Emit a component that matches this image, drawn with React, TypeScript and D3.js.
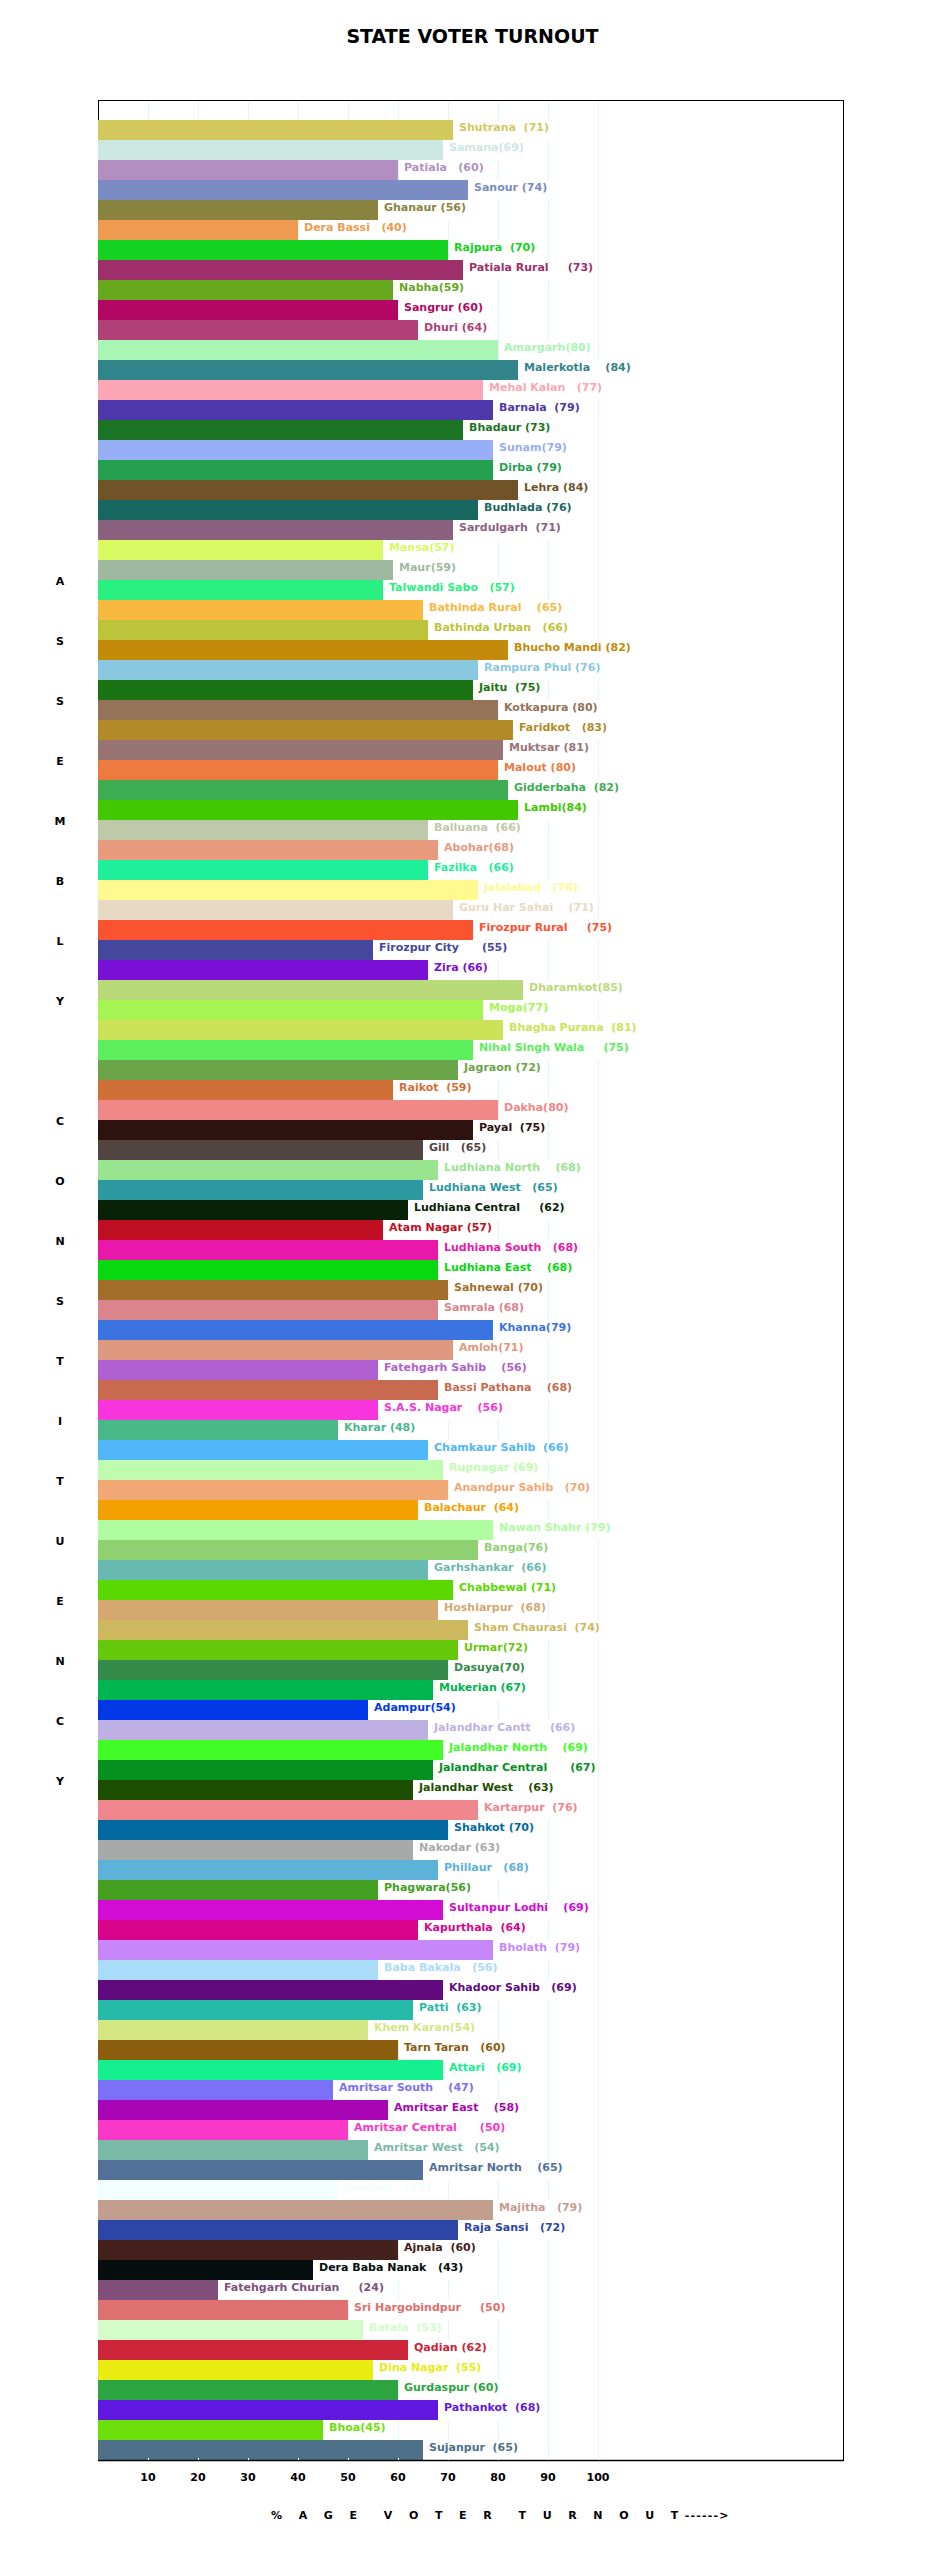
import React, { useEffect, useRef } from 'react';
import * as d3 from 'd3';

// constituency names as they appear in the labels (trailing spaces kept)
const constituencies = [
  'Shutrana  ', 'Samana', 'Patiala   ', 'Sanour ', 'Ghanaur ', 'Dera Bassi   ', 'Rajpura  ',
  'Patiala Rural     ', 'Nabha', 'Sangrur ', 'Dhuri ', 'Amargarh', 'Malerkotla    ',
  'Mehal Kalan   ', 'Barnala  ', 'Bhadaur ', 'Sunam', 'Dirba ', 'Lehra ', 'Budhlada ',
  'Sardulgarh  ', 'Mansa', 'Maur', 'Talwandi Sabo   ', 'Bathinda Rural    ', 'Bathinda Urban   ',
  'Bhucho Mandi ', 'Rampura Phul ', 'Jaitu  ', 'Kotkapura ', 'Faridkot   ', 'Muktsar ', 'Malout ',
  'Gidderbaha  ', 'Lambi', 'Balluana  ', 'Abohar', 'Fazilka   ', 'Jalalabad   ',
  'Guru Har Sahai    ', 'Firozpur Rural     ', 'Firozpur City      ', 'Zira ', 'Dharamkot',
  'Moga', 'Bhagha Purana  ', 'Nihal Singh Wala     ', 'Jagraon ', 'Raikot  ', 'Dakha', 'Payal  ',
  'Gill   ', 'Ludhiana North    ', 'Ludhiana West   ', 'Ludhiana Central     ', 'Atam Nagar ',
  'Ludhiana South   ', 'Ludhiana East    ', 'Sahnewal ', 'Samrala ', 'Khanna', 'Amloh',
  'Fatehgarh Sahib    ', 'Bassi Pathana    ', 'S.A.S. Nagar    ', 'Kharar ', 'Chamkaur Sahib  ',
  'Rupnagar ', 'Anandpur Sahib   ', 'Balachaur  ', 'Nawan Shahr ', 'Banga', 'Garhshankar  ',
  'Chabbewal ', 'Hoshiarpur  ', 'Sham Chaurasi  ', 'Urmar', 'Dasuya', 'Mukerian ', 'Adampur',
  'Jalandhar Cantt     ', 'Jalandhar North    ', 'Jalandhar Central      ', 'Jalandhar West    ',
  'Kartarpur  ', 'Shahkot ', 'Nakodar ', 'Phillaur   ', 'Phagwara', 'Sultanpur Lodhi    ',
  'Kapurthala  ', 'Bholath  ', 'Baba Bakala   ', 'Khadoor Sahib   ', 'Patti  ', 'Khem Karan',
  'Tarn Taran   ', 'Attari   ', 'Amritsar South    ', 'Amritsar East    ', 'Amritsar Central      ',
  'Amritsar West   ', 'Amritsar North    ', 'Jandiala   ', 'Majitha   ', 'Raja Sansi   ',
  'Ajnala  ', 'Dera Baba Nanak   ', 'Fatehgarh Churian     ', 'Sri Hargobindpur     ', 'Batala  ',
  'Qadian ', 'Dina Nagar  ', 'Gurdaspur ', 'Pathankot  ', 'Bhoa', 'Sujanpur  ',
];

const turnout = [
  71, 69, 60, 74, 56, 40, 70, 73, 59, 60, 64, 80, 84, 77, 79, 73, 79, 79, 84, 76,
  71, 57, 59, 57, 65, 66, 82, 76, 75, 80, 83, 81, 80, 82, 84, 66, 68, 66, 76, 71,
  75, 55, 66, 85, 77, 81, 75, 72, 59, 80, 75, 65, 68, 65, 62, 57, 68, 68, 70, 68,
  79, 71, 56, 68, 56, 48, 66, 69, 70, 64, 79, 76, 66, 71, 68, 74, 72, 70, 67, 54,
  66, 69, 67, 63, 76, 70, 63, 68, 56, 69, 64, 79, 56, 69, 63, 54, 60, 69, 47, 58,
  50, 54, 65, 48, 79, 72, 60, 43, 24, 50, 53, 62, 55, 60, 68, 45, 65,
];

const barColors = [
  '#d3c85c', '#cde7e3', '#b38fc1', '#7b8bc4', '#888440', '#ee9a50', '#14d220', '#9e2f6b',
  '#67a81e', '#b30764', '#b13f78', '#a9f5b4', '#31848a', '#fba5b5', '#4d37aa', '#1b7524',
  '#97aff7', '#24a050', '#715328', '#196761', '#8a627f', '#d9f962', '#9fb8a0', '#29f080',
  '#f9b941', '#bcc43a', '#c48a0a', '#8ac8e0', '#1b7414', '#947358', '#b38a28', '#987474',
  '#ed7a3e', '#3ead52', '#42c800', '#bdc9a9', '#e79a7c', '#1fee9b', '#fff98e', '#e8d9c4',
  '#fb5230', '#44479c', '#7a10d6', '#b8da78', '#a6f552', '#cce258', '#5cee5c', '#6ca549',
  '#d07038', '#f08888', '#2e1210', '#524440', '#98e48f', '#2c98a0', '#082208', '#c00f22',
  '#ea18aa', '#08d810', '#a36d2a', '#db848b', '#3b73e0', '#de9880', '#b060d0', '#c86a50',
  '#f835dc', '#48b889', '#50b8f8', '#c0fcb0', '#f2a874', '#f4a000', '#b0fca0', '#8fd070',
  '#68bab0', '#5bd800', '#d4a870', '#cdb860', '#66c80a', '#348a48', '#00b450', '#0038e8',
  '#bfb0e4', '#42fc28', '#05901f', '#1c4e00', '#f0868e', '#0168a0', '#a8aaaa', '#5db2d8',
  '#43a020', '#d30cd4', '#d8048c', '#c887f8', '#a8dcf8', '#620b7f', '#26bba8', '#d3e682',
  '#8b5e0e', '#14f08f', '#7c6ff8', '#a806b4', '#fa38c8', '#7ab9a8', '#527098', '#f2fdfd',
  '#c29e8f', '#2d45a6', '#44211c', '#060d0e', '#80507b', '#de7070', '#d3fcc8', '#cc2438',
  '#e8ec10', '#2ca541', '#6018e0', '#6ddf08', '#4e7089',
];

const xTicks = [10, 20, 30, 40, 50, 60, 70, 80, 90, 100];
const sideTitle = ['ASSEMBLY', 'CONSTITUENCY'];
const chartTitle = 'STATE VOTER TURNOUT';
const axisTitle = '% A G E  V O T E R  T U R N O U T';

const FONT = '"DejaVu Sans", Verdana, sans-serif';

export default function App() {
  const svgRef = useRef<SVGSVGElement>(null);

  useEffect(() => {
    document.body.style.margin = '0';
    if (!svgRef.current) return;
    const svg = d3.select(svgRef.current);
    svg.selectAll('*').remove();

    const width = 945;
    const height = 2560;
    const plot = { left: 98, right: 843, top: 100, bottom: 2460 };

    svg.attr('width', width).attr('height', height);

    const x = d3.scaleLinear().domain([0, 149]).range([plot.left, plot.right]);
    const y = d3.scaleBand<number>()
      .domain(d3.range(constituencies.length))
      .range([plot.top + 20, plot.bottom])
      .padding(0);

    // title
    svg.append('text')
      .attr('x', width / 2)
      .attr('y', 43)
      .attr('text-anchor', 'middle')
      .attr('font-family', FONT)
      .attr('font-weight', 'bold')
      .attr('font-size', 19)
      .attr('fill', '#000')
      .text(chartTitle);

    // frame
    svg.append('rect')
      .attr('x', plot.left + 0.5)
      .attr('y', plot.top + 0.5)
      .attr('width', plot.right - plot.left)
      .attr('height', plot.bottom - plot.top)
      .attr('fill', '#fff')
      .attr('stroke', '#000')
      .attr('stroke-width', 1);

    // grid lines
    svg.append('g')
      .selectAll('line')
      .data(xTicks)
      .enter()
      .append('line')
      .attr('x1', d => x(d) + 0.5)
      .attr('x2', d => x(d) + 0.5)
      .attr('y1', plot.top + 1)
      .attr('y2', plot.bottom)
      .attr('stroke', '#dcf8f8')
      .attr('stroke-width', 1);

    // bars
    svg.append('g')
      .selectAll('rect')
      .data(turnout)
      .enter()
      .append('rect')
      .attr('x', plot.left)
      .attr('y', (_, i) => y(i)!)
      .attr('width', d => x(d) - plot.left)
      .attr('height', y.bandwidth())
      .attr('fill', (_, i) => barColors[i]);

    // labels with white backing
    const labels = svg.append('g');
    turnout.forEach((v, i) => {
      const lx = x(v) + 6;
      const bg = labels.append('rect')
        .attr('y', y(i)!)
        .attr('height', y.bandwidth())
        .attr('fill', '#fff');
      const t = labels.append('text')
        .attr('x', lx)
        .attr('y', y(i)! + 11)
        .attr('font-family', FONT)
        .attr('font-weight', 'bold')
        .attr('font-size', 11)
        .attr('fill', barColors[i])
        .style('white-space', 'pre')
        .text(`${constituencies[i]}(${v})`);
      const w = (t.node() as SVGTextElement).getComputedTextLength();
      bg.attr('x', x(v) + 1).attr('width', w + 7);
    });

    // bottom axis
    svg.append('line')
      .attr('x1', plot.left)
      .attr('x2', plot.right + 1)
      .attr('y1', plot.bottom + 0.5)
      .attr('y2', plot.bottom + 0.5)
      .attr('stroke', '#000')
      .attr('stroke-width', 1.5);

    svg.append('g')
      .selectAll('line')
      .data(xTicks)
      .enter()
      .append('line')
      .attr('x1', d => x(d) + 0.5)
      .attr('x2', d => x(d) + 0.5)
      .attr('y1', plot.bottom - 2)
      .attr('y2', plot.bottom)
      .attr('stroke', '#fff');

    svg.append('g')
      .selectAll('text')
      .data(xTicks)
      .enter()
      .append('text')
      .attr('x', d => x(d))
      .attr('y', plot.bottom + 21)
      .attr('text-anchor', 'middle')
      .attr('font-family', FONT)
      .attr('font-weight', 'bold')
      .attr('font-size', 11)
      .attr('fill', '#000')
      .text(d => d);

    // axis title
    const at = svg.append('text')
      .attr('x', 271)
      .attr('y', plot.bottom + 59)
      .attr('font-family', FONT)
      .attr('font-weight', 'bold')
      .attr('font-size', 11)
      .attr('fill', '#000')
      .style('white-space', 'pre');
    at.append('tspan').attr('letter-spacing', 6.4).text(axisTitle);
    at.append('tspan').attr('letter-spacing', 1.2).text('------>');

    // vertical side title, one letter per line
    const letters: string[] = [];
    sideTitle.forEach((word, wi) => {
      if (wi > 0) letters.push('');
      word.split('').forEach(c => letters.push(c));
    });
    svg.append('g')
      .selectAll('text')
      .data(letters)
      .enter()
      .append('text')
      .attr('x', 60)
      .attr('y', (_, i) => 585 + i * 60)
      .attr('text-anchor', 'middle')
      .attr('font-family', FONT)
      .attr('font-weight', 'bold')
      .attr('font-size', 11)
      .attr('fill', '#000')
      .text(d => d);
  }, []);

  return <svg ref={svgRef} style={{ display: 'block' }} />;
}
